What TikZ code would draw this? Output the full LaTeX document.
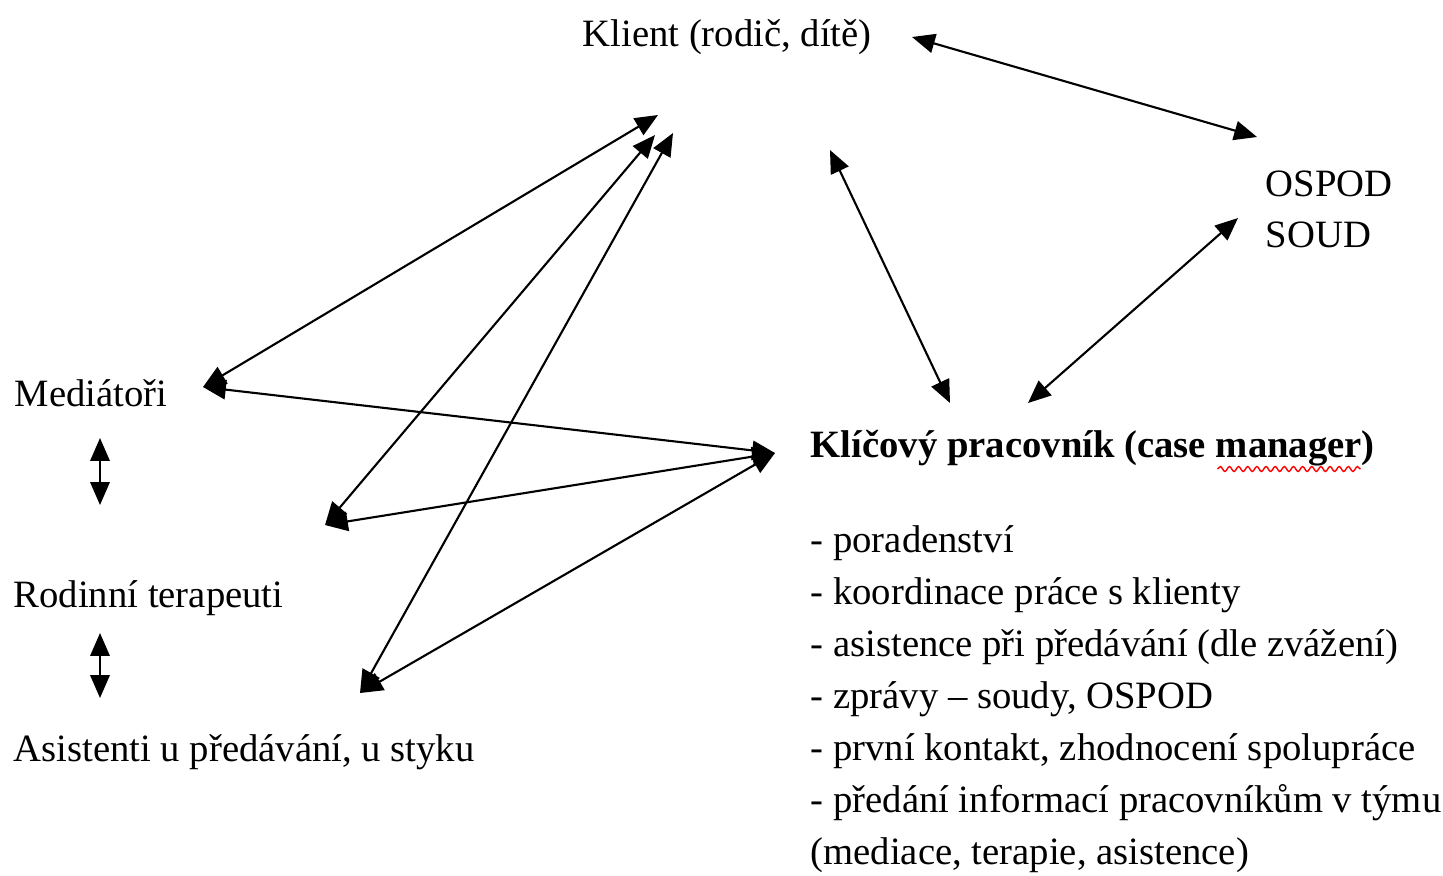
\documentclass[tikz,border=0pt]{standalone}
\usepackage{fontspec}
\setmainfont{Liberation Serif}
\usetikzlibrary{arrows.meta,calc,decorations.pathmorphing}
\tikzset{
  vazba/.style={{Triangle[length=6.5pt,width=5.5pt]}-{Triangle[length=6.5pt,width=5.5pt]}, line width=0.6pt},
  popis/.style={anchor=base west, inner sep=0pt, font=\fontsize{11pt}{13pt}\selectfont},
  tucne/.style={popis, font=\fontsize{11pt}{13pt}\selectfont\bfseries},
  podtrzeni/.style={red, line width=0.4pt, decorate, decoration={snake, amplitude=0.7pt, segment length=2.6pt}}
}
\begin{document}
\begin{tikzpicture}[x=0.01cm, y=-0.01cm]
      \useasboundingbox (0,0) rectangle (1443,875);
      % texts
      \node[popis] (klient) at (582,46) {Klient (rodič, dítě)};
      \node[popis] (ospod) at (1265,196) {OSPOD};
      \node[popis] (soud) at (1265,247) {SOUD};
      \node[popis] (mediatori) at (14,406) {Mediátoři};
      \node[popis] (terapeuti) at (13,607) {Rodinní terapeuti};
      \node[popis] (asistenti) at (13,761) {Asistenti u předávání, u styku};
      \node[tucne] (manager) at (810,457) {Klíčový pracovník (case manager)};
      \node[popis] (ukol1) at (810,552) {- poradenství};
      \node[popis] (ukol2) at (810,604) {- koordinace práce s klienty};
      \node[popis] (ukol3) at (810,656) {- asistence při předávání (dle zvážení)};
      \node[popis] (ukol4) at (810,708) {- zprávy – soudy, OSPOD};
      \node[popis] (ukol5) at (810,760) {- první kontakt, zhodnocení spolupráce};
      \node[popis] (ukol6) at (810,812) {- předání informací pracovníkům v týmu};
      \node[popis] (ukol7) at (810,864) {(mediace, terapie, asistence)};
      \draw[podtrzeni] ($(manager.base east)+(-158,12)$) -- ($(manager.base east)+(-15,12)$);
      % arrow ends
      \coordinate (kl-a) at (658,115);
      \coordinate (kl-b) at (655,135);
      \coordinate (kl-c) at (673,133);
      \coordinate (kl-d) at (830,150);
      \coordinate (kl-e) at (912,37);
      \coordinate (os-a) at (1257,137);
      \coordinate (os-b) at (1238,218);
      \coordinate (cm-a) at (950,403);
      \coordinate (cm-b) at (1028,403);
      \coordinate (cm-c) at (775,453);
      \coordinate (me-a) at (203,387);
      \coordinate (me-b) at (100,438);
      \coordinate (te-a) at (325,525);
      \coordinate (te-b) at (100,505);
      \coordinate (te-c) at (100,633);
      \coordinate (as-a) at (360,693);
      \coordinate (as-b) at (100,698);
      % arrows
      \draw[vazba] (kl-e) -- (os-a);
      \draw[vazba] (kl-d) -- (cm-a);
      \draw[vazba] (os-b) -- (cm-b);
      \draw[vazba] (me-a) -- (kl-a);
      \draw[vazba] (te-a) -- (kl-b);
      \draw[vazba] (as-a) -- (kl-c);
      \draw[vazba] (cm-c) -- (me-a);
      \draw[vazba] (cm-c) -- (te-a);
      \draw[vazba] (cm-c) -- (as-a);
      \draw[vazba] (me-b) -- (te-b);
      \draw[vazba] (te-c) -- (as-b);
    \end{tikzpicture}
\end{document}
